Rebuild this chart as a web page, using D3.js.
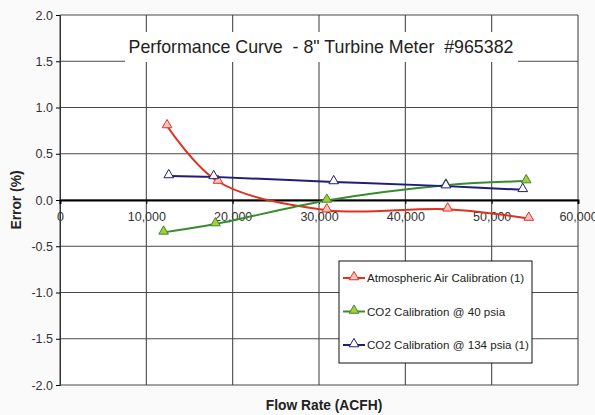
<!DOCTYPE html>
<html>
<head>
<meta charset="utf-8">
<script src="https://cdn.jsdelivr.net/npm/d3@7"></script>
<style>
body { margin: 0; background: #fafafa; }
text { font-family: "Liberation Sans", Arial, sans-serif; }
</style>
</head>
<body>
<div id="chart"></div>
<script>
// values
var airFlow = [12400, 18300, 30900, 44900, 54300];
var airError = [0.80, 0.20, -0.11, -0.10, -0.20];
var co2LowFlow = [12000, 18000, 30900, 44700, 54000];
var co2LowError = [-0.35, -0.26, -0.005, 0.16, 0.205];
var co2HighFlow = [12600, 17800, 31700, 44700, 53600];
var co2HighError = [0.26, 0.25, 0.195, 0.15, 0.11];
var xTicks = [0, 10000, 20000, 30000, 40000, 50000, 60000];
var yTicks = [-2.0, -1.5, -1.0, -0.5, 0.0, 0.5, 1.0, 1.5, 2.0];
var seriesNames = ["Atmospheric Air Calibration (1)", "CO2 Calibration @ 40 psia", "CO2 Calibration @ 134 psia (1)"];

var series = [
  {name: seriesNames[0], xs: airFlow, ys: airError, stroke: "#e0301e", fill: "#ffc4c0"},
  {name: seriesNames[1], xs: co2LowFlow, ys: co2LowError, stroke: "#3a8a2e", fill: "#a8cc3a"},
  {name: seriesNames[2], xs: co2HighFlow, ys: co2HighError, stroke: "#1e1e78", fill: "#ffffff"}
];

var width = 595, height = 415;
var svg = d3.select("#chart").append("svg").attr("width", width).attr("height", height);

var x = d3.scaleLinear().domain([0, 60000]).range([60, 578]);
var y = d3.scaleLinear().domain([-2, 2]).range([385, 15]);

// plot background
svg.append("rect").attr("x", x(0)).attr("y", y(2)).attr("width", x(60000) - x(0)).attr("height", y(-2) - y(2))
  .attr("fill", "#ffffff");

// grid
svg.append("g").selectAll("line").data(yTicks).join("line")
  .attr("x1", x(0)).attr("x2", x(60000))
  .attr("y1", d => y(d)).attr("y2", d => y(d))
  .attr("stroke", "#484848").attr("stroke-width", 1.1);
svg.append("g").selectAll("line").data(xTicks).join("line")
  .attr("y1", y(2)).attr("y2", y(-2))
  .attr("x1", d => x(d)).attr("x2", d => x(d))
  .attr("stroke", "#484848").attr("stroke-width", 1.1);

// title box (covers the grid)
svg.append("rect").attr("x", 125).attr("y", 32).attr("width", 393).attr("height", 30).attr("fill", "#ffffff");
svg.append("text").attr("x", 321).attr("y", 53).attr("text-anchor", "middle")
  .attr("font-size", 17.8).attr("fill", "#222").style("white-space", "pre")
  .text("Performance Curve  - 8\" Turbine Meter  #965382");

// axes
var yAxis = svg.append("g").attr("transform", `translate(${x(0)},0)`)
  .call(d3.axisLeft(y).tickValues(yTicks).tickFormat(d3.format(".1f")).tickSize(4));
yAxis.select(".domain").attr("stroke", "#333");
yAxis.selectAll("text").attr("font-size", 12.5).attr("fill", "#333")
  .text(d => d3.format(".1f")(d).replace("−", "-"));

var xAxis = svg.append("g").attr("transform", `translate(0,${y(0)})`)
  .call(d3.axisBottom(x).tickValues(xTicks).tickFormat(d3.format(",")).tickSize(4));
xAxis.select(".domain").attr("stroke", "#000").attr("stroke-width", 2);
xAxis.selectAll("text").attr("font-size", 12.5).attr("fill", "#333").attr("dy", "1.1em");

// axis titles
svg.append("text").attr("x", 324).attr("y", 410).attr("text-anchor", "middle")
  .attr("font-size", 13.8).attr("font-weight", "bold").attr("fill", "#222").text("Flow Rate (ACFH)");
svg.append("text").attr("transform", `translate(21,200) rotate(-90)`).attr("text-anchor", "middle")
  .attr("font-size", 13.8).attr("font-weight", "bold").attr("fill", "#222").text("Error (%)");

var tri = d3.symbol().type(d3.symbolTriangle).size(40);

var line = d3.line().curve(d3.curveCatmullRom.alpha(0.5));

series.forEach(function(s) {
  var pts = s.xs.map((v, i) => [x(v), y(s.ys[i])]);
  svg.append("path").attr("d", line(pts)).attr("fill", "none")
    .attr("stroke", s.stroke).attr("stroke-width", 2);
  svg.append("g").selectAll("path").data(pts).join("path")
    .attr("d", tri).attr("transform", d => `translate(${d[0]},${d[1] - 1})`)
    .attr("fill", s.fill).attr("stroke", s.stroke).attr("stroke-width", 1);
});

// legend
var legend = svg.append("g");
legend.append("rect").attr("x", 339).attr("y", 261).attr("width", 193).attr("height", 102)
  .attr("fill", "#ffffff").attr("stroke", "#111").attr("stroke-width", 1);
series.forEach(function(s, i) {
  var ly = 278 + i * 33.5;
  legend.append("line").attr("x1", 343).attr("x2", 365).attr("y1", ly).attr("y2", ly)
    .attr("stroke", s.stroke).attr("stroke-width", 2);
  legend.append("path").attr("d", tri).attr("transform", `translate(354,${ly - 1})`)
    .attr("fill", s.fill).attr("stroke", s.stroke);
  legend.append("text").attr("x", 367).attr("y", ly + 4).attr("font-size", 11.6)
    .attr("fill", "#222").text(s.name);
});
</script>
</body>
</html>
